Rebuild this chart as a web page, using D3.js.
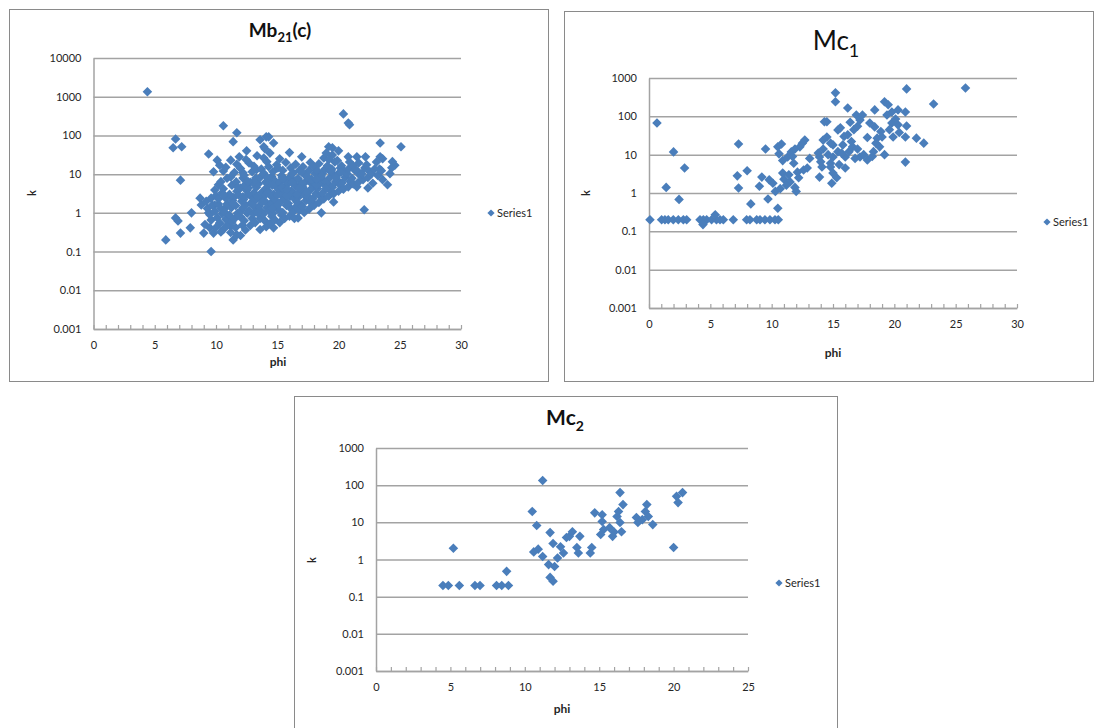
<!DOCTYPE html>
<html>
<head>
<meta charset="utf-8">
<script src="https://cdn.jsdelivr.net/npm/d3@7"></script>
<style>
  html, body { margin: 0; padding: 0; background: #fff; }
  svg { display: block; font-family: Lato, "Open Sans", sans-serif; }
</style>
</head>
<body>
<svg id="chart" width="1095" height="728"></svg>
<script>
// ---- data: [phi, k] pairs for each sample group ----
const mb21Points = [
  [4.4,1340],[6.7,81],[6.5,48],[7.2,51],[7.1,7],[5.9,0.2],[6.7,0.74],[6.9,0.62],[7.1,0.3],[7.9,0.41],
  [8.0,1.0],[8.7,2.4],[8.8,1.6],[9.0,0.3],[9.6,0.1],[9.5,0.41],[9.8,0.3],[9.4,1.0],[9.9,1.6],[9.9,3.9],
  [10.3,0.55],[10.6,0.37],[10.7,1.3],[11.4,0.2],[11.2,0.44],[11.7,0.27],[12.0,0.79],[13.6,0.37],[14.1,0.44],
  [22.1,1.2],[18.6,1.0],[24.0,5.3],[22.4,4.4],[21.5,4.7],[14.7,0.41],[16.7,0.74],[19.6,1.9],[17.9,1.8],
  [20.4,360],[20.9,190],[20.8,210],[23.4,64],[25.1,51],[19.2,51],[14.3,92],[14.7,64],[16.0,36],[17.0,28],
  [19.5,31],[20.8,28],[21.5,28],[22.2,28],[23.4,28],[23.6,25],[24.6,17],[24.4,21],[18.8,26],[19.0,35],
  [19.5,48],[13.6,77],[13.9,51],[10.6,178],[11.7,117],[11.4,69],[9.4,33],[12.5,40],[11.2,23],[10.1,23],
  [10.3,17],[9.8,11.5],[11.9,28],[12.7,19.5],[14.1,92],[13.9,26],[13.3,13],[12.2,10.8],
  [9.1,0.5],[9.3,1.3],[9.2,2.0],[9.6,0.65],[9.5,0.9],[9.7,1.6],[9.6,2.4],
  [10.0,0.42],[10.1,0.75],[9.9,1.1],[10.2,1.7],[10.0,2.8],[10.2,5.3],
  [10.4,0.32],[10.3,0.52],[10.5,0.95],[10.4,1.3],[10.2,2.3],[10.5,3.3],[10.4,6.4],[10.6,12],
  [10.9,0.48],[10.8,0.68],[10.7,1.05],[10.9,1.7],[10.8,2.4],[10.6,4.2],[10.9,7.8],[10.8,15],
  [11.2,0.31],[11.3,0.58],[11.1,0.87],[11.25,1.35],[11.35,2.1],[11.1,3.0],[11.3,5.2],[11.2,8.5],
  [11.6,0.42],[11.5,0.7],[11.75,0.97],[11.6,1.55],[11.45,2.5],[11.7,3.6],[11.65,6.3],[11.5,11],[11.7,18],
  [12.0,0.26],[12.15,0.48],[11.9,0.83],[12.05,1.15],[12.1,2.0],[11.85,2.9],[12.0,4.4],[12.2,7.9],[12.0,14],
  [12.4,0.36],[12.3,0.63],[12.55,0.98],[12.4,1.6],[12.25,2.2],[12.5,3.8],[12.35,5.2],[12.3,9.4],[12.45,24],
  [12.8,0.47],[12.95,0.72],[12.7,1.15],[12.85,1.8],[12.9,2.6],[12.65,4.4],[12.8,6.2],[12.95,11.5],
  [13.2,0.56],[13.05,0.95],[13.35,1.25],[13.2,2.1],[13.1,3.3],[13.3,4.6],[13.25,7.9],[13.1,16],[13.35,30],
  [13.6,0.72],[13.75,1.05],[13.5,1.45],[13.65,2.4],[13.75,3.4],[13.45,5.6],[13.6,8.2],[13.7,13.5],
  [14.0,0.62],[13.85,0.92],[14.15,1.35],[14.0,2.0],[13.9,2.7],[14.1,4.4],[14.05,6.2],[13.9,10.5],[14.15,21],[14.0,45],
  [14.4,0.52],[14.55,0.82],[14.3,1.15],[14.45,1.75],[14.55,2.6],[14.25,3.7],[14.4,6.0],[14.55,8.7],[14.3,15.5],[14.4,35],
  [14.8,0.66],[14.65,0.98],[14.95,1.45],[14.8,2.2],[14.7,3.0],[14.9,4.8],[14.8,6.8],[14.65,11.5],[14.95,17.5],
  [15.2,0.56],[15.35,0.88],[15.05,1.25],[15.25,1.85],[15.35,2.8],[15.1,3.9],[15.2,6.2],[15.35,9.2],[15.05,14.5],[15.2,25],
  [15.6,0.72],[15.45,1.02],[15.75,1.55],[15.6,2.3],[15.5,3.2],[15.75,5.2],[15.6,7.3],[15.45,12.5],[15.7,20],
  [16.0,0.82],[16.15,1.25],[15.9,1.75],[16.05,2.7],[16.15,3.7],[15.85,5.8],[16.0,8.2],[16.1,14.5],
  [16.4,0.72],[16.3,1.05],[16.55,1.45],[16.4,2.3],[16.25,3.3],[16.5,4.9],[16.45,6.8],[16.3,10.8],[16.5,18],
  [16.8,1.15],[16.95,1.65],[16.7,2.5],[16.85,3.5],[16.95,5.5],[16.7,7.7],[16.8,12.5],
  [17.2,1.02],[17.05,1.45],[17.35,2.1],[17.2,2.9],[17.1,4.6],[17.3,6.3],[17.25,9.8],[17.1,15.5],
  [17.6,1.25],[17.75,1.85],[17.5,2.7],[17.65,3.8],[17.75,5.9],[17.5,8.1],[17.6,12.5],[17.7,20],
  [18.0,1.55],[17.9,2.3],[18.15,3.1],[18.0,4.9],[17.85,6.8],[18.1,10.5],[18.0,15.5],
  [18.4,1.85],[18.55,2.6],[18.3,4.2],[18.45,5.6],[18.5,8.8],[18.3,12],[18.4,18.5],
  [18.8,2.3],[18.7,3.2],[18.95,5.0],[18.8,6.8],[18.7,10.5],[18.9,13.5],
  [19.2,2.7],[19.35,3.7],[19.1,5.7],[19.25,7.8],[19.3,12],[19.1,16.5],[19.2,24],
  [19.6,3.1],[19.5,4.6],[19.75,6.3],[19.6,9.8],[19.45,13.5],[19.7,20.5],
  [20.0,3.6],[20.15,5.2],[19.9,7.1],[20.05,10.8],[20.15,14.5],[19.9,22.5],[20.0,40],
  [20.4,4.1],[20.3,6.0],[20.55,8.3],[20.4,12.5],[20.25,16.5],
  [20.8,4.7],[20.95,6.6],[20.7,10.3],[20.85,14],[20.9,20.5],
  [21.2,5.6],[21.1,7.8],[21.35,12.4],[21.2,16.5],
  [21.6,6.1],[21.75,9.3],[21.5,12.6],[21.65,19.5],
  [22.0,7.2],[21.9,10.3],[22.15,14.5],
  [22.4,8.2],[22.55,11.6],[22.3,17.5],
  [22.8,5.8],[22.7,10.2],[22.95,13.6],
  [23.2,9.2],[23.35,13.6],[23.1,20.5],
  [23.6,7.2],[23.5,12.3],
  [24.2,10.3],[24.35,14.6],
  // extra points filling the dense core
  [13.4,2.6],[14.2,3.3],[15.0,1.6],[15.4,4.5],[15.8,2.8],[16.2,6.2],[16.6,3.0],[17.0,5.8],[17.4,3.4],[17.8,7.5],
  [18.2,5.2],[18.6,9.0],[19.0,6.2],[19.4,12.5],[19.8,8.3],[20.2,11.2],[12.6,3.0],[13.0,1.6],[13.8,1.9],[14.6,5.2],
  [15.4,8.1],[16.2,10.2],[17.0,11.2],[13.0,6.1],[14.2,8.1],[15.8,4.1],[12.2,2.6],[11.8,4.5],[12.6,6.5],[16.6,1.9],
  [17.4,8.6],[18.2,7.4],[19.0,4.3],[15.0,2.9],[14.6,1.3],[13.4,1.0],[12.2,1.35],[11.4,1.75],[10.6,2.9],[16.8,4.4]
];

const mc1Points = [
  [0.08,0.2],[1.03,0.2],[1.3,0.2],[1.57,0.2],[1.98,0.2],[2.39,0.2],[2.8,0.2],[3.07,0.2],[4.16,0.2],[4.43,0.2],
  [4.7,0.2],[5.1,0.2],[5.5,0.2],[5.79,0.2],[6.06,0.2],[6.87,0.2],[7.96,0.2],[8.23,0.2],[8.78,0.2],[9.05,0.2],
  [9.45,0.2],[9.86,0.2],[10.27,0.2],[10.54,0.2],
  [4.4,0.15],[5.4,0.27],[8.3,0.52],[9.7,0.7],[10.5,0.4],[7.3,1.35],[1.4,1.4],[2.45,0.68],[0.65,67],[2.0,11.8],
  [2.9,4.5],[7.3,19],[7.2,2.8],[8.0,3.8],[9.2,2.6],[9.0,1.5],[9.5,14],[10.5,16],[10.8,19],[11.3,8.7],
  [11.6,11.8],[12.3,16],[12.7,24],[12.5,20],[12.6,4],[11.8,6],[10.9,3.3],[10.1,1.8],[11.5,1.95],[11.9,1.4],
  [10.3,1.1],[10.7,1.3],[11.0,2.3],[11.2,1.6],[12.0,1.1],[12.2,2.5],[11.4,3.0],
  [14.5,72],[15.0,18],[14.2,24],[13.9,8.7],[14.1,4.8],[14.8,6],[15.4,44],[15.2,410],[15.2,240],[16.2,165],
  [16.9,108],[17.2,80],[17.4,108],[18.4,147],[19.2,240],[19.5,200],[19.8,130],[20.3,147],[20.9,130],[21.0,520],
  [23.2,210],[25.8,550],[21.8,27],[22.4,20],[20.9,6.4],[19.9,29],[20.9,29],[21.0,56],[20.3,60],[19.8,67],
  [19.4,108],[18.4,53],[18.0,67],[18.6,27],[19.0,29],[18.8,16],[18.3,12],[17.8,7.3],[17.2,8.7],[16.8,8],
  [16.6,16],[16.2,33],[15.8,18],[15.4,12],[14.8,20],[15.0,8.7],[14.8,4.8],[15.0,3.3],[14.9,1.8],[13.9,2.6],
  [14.5,29],[14.3,72],[15.6,50],[16.0,4.5],[16.0,8.7],
  [15.3,2.5],[15.5,5.5],[15.7,11],[16.3,12],[16.5,22],[16.7,45],[17.0,14],[17.5,10],[17.8,28],[18.2,9],
  [18.9,40],[19.6,45],[20.1,85],[20.4,38],[19.2,10],[18.5,20],[17.0,55],[16.4,70],[15.9,30],[14.6,10],
  [14.2,14],[13.8,11],[14.0,6.5],[13.1,8],[12.9,4.5],[12.1,3.5],[11.7,9],[10.9,7],[10.6,10.5],[11.9,14],
  [9.8,2.2]
];

const mc2Points = [
  [4.5,0.2],[4.86,0.2],[5.2,2.0],[5.6,0.2],[6.65,0.2],[6.99,0.2],[8.1,0.2],[8.45,0.2],[8.78,0.48],[8.9,0.2],
  [10.5,19.6],[10.8,8.2],[11.2,133],[10.6,1.6],[10.9,1.9],[11.2,1.2],[11.6,0.73],[11.7,0.33],[11.9,0.26],
  [11.7,5.3],[11.9,2.7],[12.0,0.65],[12.2,1.1],[12.4,2.2],[12.6,1.5],[12.8,3.9],[13.0,4.2],[13.2,5.6],
  [13.5,2.1],[13.6,1.5],[13.7,4.2],[14.4,1.5],[14.5,2.1],[14.7,18],[15.2,16],[15.2,10.5],[15.3,6.4],
  [15.1,4.7],[15.7,7.2],[15.9,4.2],[16.0,5.5],[16.4,63],[16.6,30],[16.3,19.5],[16.2,14.3],[16.4,9.9],
  [16.5,5.6],[17.5,13.5],[17.6,9.9],[17.9,11.8],[18.2,30],[18.1,19.5],[18.3,14.3],[18.6,8.7],[20.0,2.1],
  [20.2,50],[20.6,63],[20.3,34]
];

// ---- axis tick values ----
const yTicksMb21 = [0.001, 0.01, 0.1, 1, 10, 100, 1000, 10000];
const yTicksMc = [0.001, 0.01, 0.1, 1, 10, 100, 1000];
const xLabels30 = [0, 5, 10, 15, 20, 25, 30];
const xLabels25 = [0, 5, 10, 15, 20, 25];
const seriesName = "Series1";

// ---- panel layout ----
const panels = [
  {
    points: mb21Points, yTicks: yTicksMb21, xLabels: xLabels30, xMax: 30,
    title: ["Mb", "21", "(c)"], titleSize: 19, titleWeight: 700, titleX: 280, titleY: 37,
    frame: { x: 9.5, y: 9.5, w: 539, h: 372 },
    plot: { left: 93.5, top: 58, right: 461, bottom: 329 },
    kPos: [36, 193], phiPos: [278, 366], legend: [491, 213]
  },
  {
    points: mc1Points, yTicks: yTicksMc, xLabels: xLabels30, xMax: 30,
    title: ["Mc", "1", ""], titleSize: 26, titleWeight: 400, titleX: 836, titleY: 50,
    frame: { x: 564.5, y: 11.5, w: 529, h: 370 },
    plot: { left: 649, top: 78, right: 1017, bottom: 308 },
    kPos: [590, 193], phiPos: [833, 357], legend: [1047, 222]
  },
  {
    points: mc2Points, yTicks: yTicksMc, xLabels: xLabels25, xMax: 25,
    title: ["Mc", "2", ""], titleSize: 21, titleWeight: 700, titleX: 565, titleY: 425,
    frame: { x: 294.5, y: 396.5, w: 543, h: 345 },
    plot: { left: 376, top: 448, right: 748, bottom: 671 },
    kPos: [316, 560], phiPos: [562, 713], legend: [779, 583]
  }
];

const markColor = "#4a7ebb";
const gridColor = "#a3a3a3";
const textColor = "#262626";

const svg = d3.select("#chart");
const diamond = d3.symbol().type(d3.symbolSquare).size(46);

function fmtK(d) {
  return d >= 1 ? d3.format("d")(d) : String(d);
}

function drawPanel(p) {
  const g = svg.append("g");

  // chart frame
  g.append("rect")
    .attr("x", p.frame.x).attr("y", p.frame.y)
    .attr("width", p.frame.w).attr("height", p.frame.h)
    .attr("fill", "#fff").attr("stroke", "#8a8a8a").attr("stroke-width", 1);

  const x = d3.scaleLinear().domain([0, p.xMax]).range([p.plot.left, p.plot.right]);
  const y = d3.scaleLog().domain([d3.min(p.yTicks), d3.max(p.yTicks)]).range([p.plot.bottom, p.plot.top]);

  // horizontal gridlines + value labels
  const yAxis = d3.axisLeft(y)
    .tickValues(p.yTicks)
    .tickFormat(fmtK)
    .tickSizeInner(-(p.plot.right - p.plot.left))
    .tickSizeOuter(0)
    .tickPadding(12);
  const yg = g.append("g").attr("transform", `translate(${p.plot.left},0)`).call(yAxis);
  yg.select(".domain").attr("stroke", gridColor).attr("stroke-width", 1.5);
  yg.selectAll(".tick line").attr("stroke", gridColor).attr("stroke-width", 1.5);
  yg.selectAll(".tick text").attr("fill", textColor).style("font-size", "11px")
    .style("font-family", "Lato, 'Open Sans', sans-serif");

  // x axis with a small inward tick at every unit
  const xAxisMinor = d3.axisBottom(x)
    .tickValues(d3.range(0, p.xMax + 1))
    .tickFormat("")
    .tickSizeInner(-4)
    .tickSizeOuter(0);
  const xg = g.append("g").attr("transform", `translate(0,${p.plot.bottom})`).call(xAxisMinor);
  xg.select(".domain").attr("stroke", gridColor).attr("stroke-width", 1.5);
  xg.selectAll(".tick line").attr("stroke", gridColor).attr("stroke-width", 1.2);

  const xAxisLabels = d3.axisBottom(x)
    .tickValues(p.xLabels)
    .tickFormat(d3.format("d"))
    .tickSize(0)
    .tickPadding(12);
  const xl = g.append("g").attr("transform", `translate(0,${p.plot.bottom})`).call(xAxisLabels);
  xl.select(".domain").remove();
  xl.selectAll(".tick text").attr("fill", textColor).style("font-size", "11px")
    .style("font-family", "Lato, 'Open Sans', sans-serif");

  // points
  g.append("g").selectAll("path")
    .data(p.points)
    .join("path")
    .attr("d", diamond)
    .attr("transform", d => `translate(${x(d[0])},${y(d[1])}) rotate(45)`)
    .attr("fill", markColor);

  // title with subscript
  const t = g.append("text")
    .attr("x", p.titleX).attr("y", p.titleY)
    .attr("text-anchor", "middle")
    .attr("fill", "#111")
    .style("font-size", p.titleSize + "px")
    .style("font-weight", p.titleWeight);
  t.append("tspan").text(p.title[0]);
  t.append("tspan").text(p.title[1])
    .attr("dy", p.titleSize * 0.28)
    .style("font-size", Math.round(p.titleSize * 0.68) + "px");
  if (p.title[2]) {
    t.append("tspan").text(p.title[2]).attr("dy", -p.titleSize * 0.28);
  }

  // axis titles
  g.append("text")
    .attr("transform", `translate(${p.kPos[0]},${p.kPos[1]}) rotate(-90)`)
    .attr("text-anchor", "middle")
    .attr("fill", textColor)
    .style("font-size", "11px").style("font-weight", 700)
    .text("k");
  g.append("text")
    .attr("x", p.phiPos[0]).attr("y", p.phiPos[1])
    .attr("text-anchor", "middle")
    .attr("fill", textColor)
    .style("font-size", "12px").style("font-weight", 700)
    .text("phi");

  // legend
  g.append("path")
    .attr("d", d3.symbol().type(d3.symbolSquare).size(26))
    .attr("transform", `translate(${p.legend[0]},${p.legend[1]}) rotate(45)`)
    .attr("fill", markColor);
  g.append("text")
    .attr("x", p.legend[0] + 6).attr("y", p.legend[1] + 4)
    .attr("fill", textColor)
    .style("font-size", "11px")
    .text(seriesName);
}

panels.forEach(drawPanel);
</script>
</body>
</html>
